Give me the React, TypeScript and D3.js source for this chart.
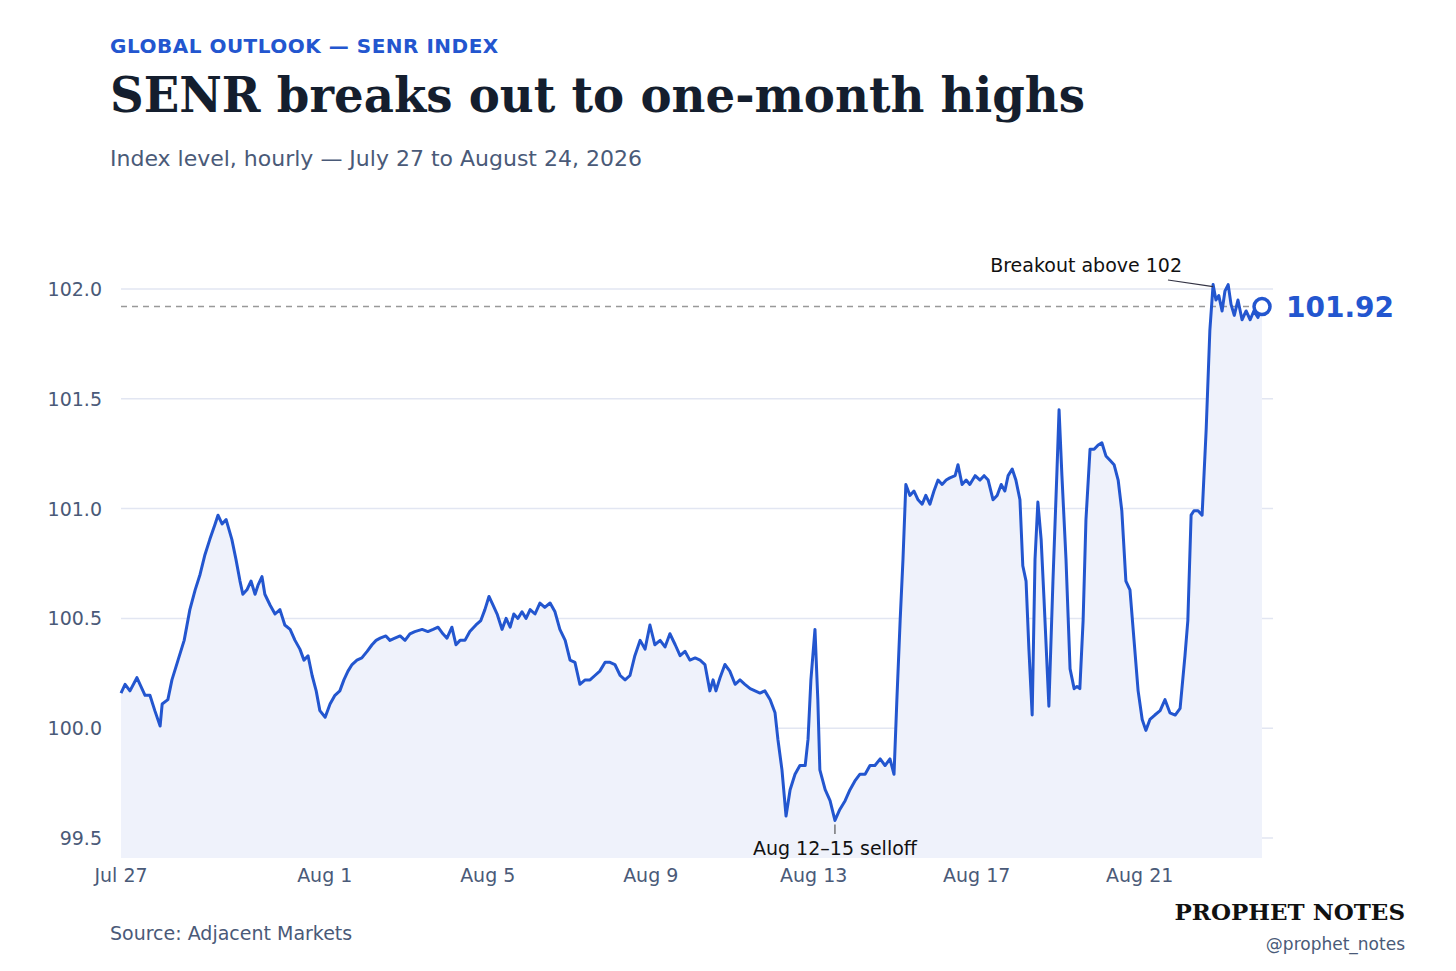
import React from "react";
import * as d3 from "d3";

// [day offset from Jul 27 00:00, index level]
const series: [number, number][] = [
  [0, 100.16], [0.1, 100.2], [0.22, 100.17], [0.39, 100.23], [0.59, 100.15], [0.71, 100.15], [0.83, 100.08], [0.96, 100.01],
  [1.01, 100.11], [1.15, 100.13], [1.25, 100.22], [1.4, 100.31], [1.55, 100.4], [1.69, 100.54], [1.82, 100.63], [1.94, 100.7],
  [2.06, 100.79], [2.18, 100.86], [2.31, 100.93], [2.38, 100.97], [2.48, 100.93], [2.58, 100.95], [2.72, 100.86], [2.82, 100.77],
  [2.92, 100.67], [2.99, 100.61], [3.09, 100.63], [3.19, 100.67], [3.29, 100.61], [3.36, 100.65], [3.46, 100.69], [3.53, 100.61],
  [3.66, 100.56], [3.78, 100.52], [3.9, 100.54], [4.02, 100.47], [4.15, 100.45], [4.27, 100.4], [4.39, 100.36], [4.49, 100.31],
  [4.59, 100.33], [4.69, 100.24], [4.79, 100.17], [4.88, 100.08], [5.01, 100.05], [5.13, 100.11], [5.25, 100.15], [5.37, 100.17],
  [5.47, 100.22], [5.57, 100.26], [5.67, 100.29], [5.79, 100.31], [5.91, 100.32], [6.04, 100.35], [6.16, 100.38], [6.26, 100.4],
  [6.36, 100.41], [6.5, 100.42], [6.6, 100.4], [6.72, 100.41], [6.85, 100.42], [6.97, 100.4], [7.09, 100.43], [7.21, 100.44],
  [7.39, 100.45], [7.53, 100.44], [7.66, 100.45], [7.78, 100.46], [7.9, 100.43], [8.0, 100.41], [8.12, 100.46], [8.22, 100.38],
  [8.32, 100.4], [8.44, 100.4], [8.56, 100.44], [8.71, 100.47], [8.83, 100.49], [8.93, 100.54], [9.03, 100.6], [9.13, 100.56],
  [9.23, 100.52], [9.35, 100.45], [9.45, 100.5], [9.55, 100.46], [9.64, 100.52], [9.74, 100.5], [9.84, 100.53], [9.94, 100.5],
  [10.04, 100.54], [10.16, 100.52], [10.28, 100.57], [10.4, 100.55], [10.53, 100.57], [10.65, 100.53], [10.77, 100.45], [10.9, 100.4],
  [11.02, 100.31], [11.14, 100.3], [11.26, 100.2], [11.39, 100.22], [11.51, 100.22], [11.63, 100.24], [11.75, 100.26], [11.88, 100.3],
  [12.0, 100.3], [12.12, 100.29], [12.25, 100.24], [12.37, 100.22], [12.49, 100.24], [12.61, 100.33], [12.74, 100.4], [12.86, 100.36],
  [12.98, 100.47], [13.1, 100.38], [13.23, 100.4], [13.35, 100.37], [13.47, 100.43], [13.6, 100.38], [13.72, 100.33], [13.84, 100.35],
  [13.96, 100.31], [14.09, 100.32], [14.21, 100.31], [14.33, 100.29], [14.45, 100.17], [14.53, 100.22], [14.6, 100.17], [14.7, 100.23],
  [14.82, 100.29], [14.94, 100.26], [15.07, 100.2], [15.19, 100.22], [15.31, 100.2], [15.44, 100.18], [15.56, 100.17], [15.68, 100.16],
  [15.8, 100.17], [15.93, 100.13], [16.05, 100.07], [16.12, 99.95], [16.22, 99.81], [16.32, 99.6], [16.42, 99.72], [16.54, 99.79],
  [16.66, 99.83], [16.79, 99.83], [16.86, 99.95], [16.93, 100.22], [17.03, 100.45], [17.1, 100.13], [17.15, 99.81], [17.28, 99.72],
  [17.4, 99.67], [17.52, 99.58], [17.64, 99.63], [17.77, 99.67], [17.89, 99.72], [18.01, 99.76], [18.13, 99.79], [18.26, 99.79],
  [18.38, 99.83], [18.5, 99.83], [18.63, 99.86], [18.75, 99.83], [18.87, 99.86], [18.97, 99.79], [19.04, 100.13], [19.12, 100.49],
  [19.19, 100.77], [19.26, 101.11], [19.36, 101.06], [19.46, 101.08], [19.56, 101.04], [19.66, 101.02], [19.75, 101.06], [19.85, 101.02],
  [19.95, 101.08], [20.05, 101.13], [20.15, 101.11], [20.25, 101.13], [20.34, 101.14], [20.47, 101.15], [20.54, 101.2], [20.64, 101.11],
  [20.74, 101.13], [20.83, 101.11], [20.96, 101.15], [21.08, 101.13], [21.18, 101.15], [21.28, 101.13], [21.4, 101.04], [21.5, 101.06],
  [21.6, 101.11], [21.69, 101.08], [21.77, 101.15], [21.87, 101.18], [21.96, 101.13], [22.06, 101.04], [22.13, 100.74], [22.21, 100.67],
  [22.28, 100.36], [22.36, 100.06], [22.43, 100.77], [22.5, 101.03], [22.58, 100.86], [22.65, 100.59], [22.77, 100.1], [22.87, 100.67],
  [22.97, 101.18], [23.02, 101.45], [23.09, 101.15], [23.19, 100.77], [23.29, 100.27], [23.39, 100.18], [23.46, 100.19], [23.53, 100.18],
  [23.61, 100.49], [23.68, 100.95], [23.78, 101.27], [23.88, 101.27], [23.98, 101.29], [24.07, 101.3], [24.17, 101.24], [24.27, 101.22],
  [24.37, 101.2], [24.47, 101.13], [24.56, 100.99], [24.66, 100.67], [24.76, 100.63], [24.86, 100.4], [24.96, 100.17], [25.06, 100.04],
  [25.15, 99.99], [25.25, 100.04], [25.37, 100.06], [25.5, 100.08], [25.62, 100.13], [25.74, 100.07], [25.87, 100.06], [25.99, 100.09],
  [26.11, 100.33], [26.18, 100.49], [26.26, 100.97], [26.33, 100.99], [26.43, 100.99], [26.53, 100.97], [26.63, 101.36], [26.72, 101.81],
  [26.8, 102.02], [26.87, 101.95], [26.94, 101.97], [27.02, 101.9], [27.09, 101.99], [27.17, 102.02], [27.24, 101.93], [27.32, 101.88],
  [27.41, 101.95], [27.51, 101.86], [27.61, 101.9], [27.71, 101.86], [27.8, 101.9], [27.9, 101.87], [28.0, 101.92],
];
const xTickDays = [0, 5, 9, 13, 17, 21, 25];
const xTickLabels = ["Jul 27", "Aug 1", "Aug 5", "Aug 9", "Aug 13", "Aug 17", "Aug 21"];
const yTicks = [99.5, 100.0, 100.5, 101.0, 101.5, 102.0];
const lastValue = 101.92;

const BLUE = "#2356cf";
const GREY = "#4a5a78";
const SANS = "'DejaVu Sans', sans-serif";

export default function App() {
  const x = d3.scaleLinear().domain([0, 28]).range([121, 1262]);
  const y = d3.scaleLinear().domain([99.5, 102]).range([838, 289]);
  const bottom = 858;
  const line = d3.line<[number, number]>().x((d) => x(d[0])).y((d) => y(d[1]));
  const area = d3
    .area<[number, number]>()
    .x((d) => x(d[0]))
    .y0(bottom)
    .y1((d) => y(d[1]));
  const last = series[series.length - 1];
  const peak = series.find((d) => d[1] >= 102.02)!;
  const trough = series.find((d) => d[1] <= 99.58)!;

  return (
    <svg width={1440} height={963} style={{ display: "block", margin: -8 }} fontFamily={SANS}>
      <rect width={1456} height={971} fill="#fff" />
      <text x={110} y={53} fill={BLUE} fontSize={20} fontWeight="bold" letterSpacing={0.5}>
        GLOBAL OUTLOOK — SENR INDEX
      </text>
      <text x={110} y={112} fill="#141e2e" fontSize={48} fontWeight="bold" fontFamily="'DejaVu Serif', serif" textLength={975} lengthAdjust="spacingAndGlyphs">
        SENR breaks out to one-month highs
      </text>
      <text x={110} y={166} fill={GREY} fontSize={22}>
        Index level, hourly — July 27 to August 24, 2026
      </text>

      {yTicks.map((t) => (
        <g key={t}>
          <line x1={121} x2={1273} y1={y(t)} y2={y(t)} stroke="#e2e6f2" strokeWidth={1.5} />
          <text x={102} y={y(t) + 7} textAnchor="end" fill={GREY} fontSize={19}>
            {t.toFixed(1)}
          </text>
        </g>
      ))}
      {xTickDays.map((d, i) => (
        <text key={d} x={x(d)} y={882} textAnchor="middle" fill={GREY} fontSize={19}>
          {xTickLabels[i]}
        </text>
      ))}

      <path d={area(series)!} fill="#eff2fb" />
      <line x1={121} x2={1262} y1={y(lastValue)} y2={y(lastValue)} stroke="#999" strokeWidth={1.5} strokeDasharray="6 5" />
      <path d={line(series)!} fill="none" stroke={BLUE} strokeWidth={3} strokeLinejoin="round" />
      <circle cx={x(last[0])} cy={y(last[1])} r={8} fill="#fff" stroke={BLUE} strokeWidth={3.5} />
      <text x={1286} y={y(lastValue) + 10} fill={BLUE} fontSize={28} fontWeight="bold">
        {lastValue.toFixed(2)}
      </text>

      <line x1={1168} y1={280} x2={x(peak[0])} y2={y(peak[1]) + 2} stroke="#334" strokeWidth={1.2} />
      <text x={1182} y={272} textAnchor="end" fill="#111" fontSize={19}>
        Breakout above 102
      </text>
      <line x1={x(trough[0])} x2={x(trough[0])} y1={y(trough[1]) + 4} y2={834} stroke="#555" strokeWidth={1.2} />
      <text x={x(trough[0])} y={855} textAnchor="middle" fill="#111" fontSize={19}>
        Aug 12–15 selloff
      </text>

      <text x={110} y={940} fill={GREY} fontSize={19}>
        Source: Adjacent Markets
      </text>
      <text x={1405} y={920} textAnchor="end" fill="#111" fontSize={23} fontWeight="bold" fontFamily="'DejaVu Serif', serif">
        PROPHET NOTES
      </text>
      <text x={1405} y={950} textAnchor="end" fill={GREY} fontSize={17}>
        @prophet_notes
      </text>
    </svg>
  );
}
